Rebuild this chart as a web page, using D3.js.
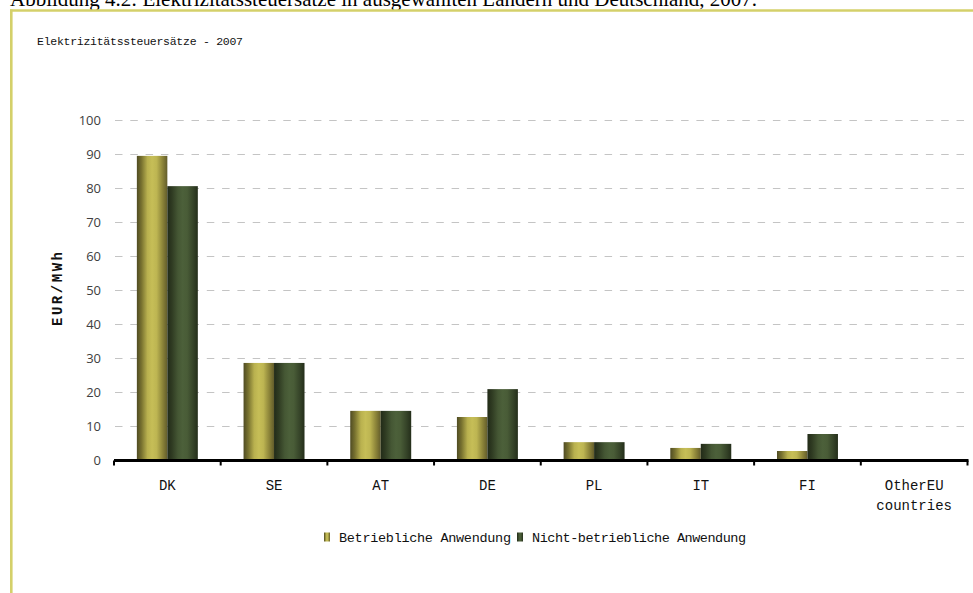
<!DOCTYPE html>
<html><head><meta charset="utf-8">
<script src="https://cdn.jsdelivr.net/npm/d3@7"></script>
<style>body{margin:0;background:#fff}svg{display:block}</style>
</head><body>
<script>
const categories = ["DK","SE","AT","DE","PL","IT","FI","OtherEU|countries"];
const seriesNames = ["Betriebliche Anwendung","Nicht-betriebliche Anwendung"];
const betrieblich = [89.3, 28.4, 14.3, 12.5, 5.1, 3.4, 2.5, 0];
const nichtBetrieblich = [80.4, 28.4, 14.3, 20.7, 5.1, 4.6, 7.5, 0];
const yTicks = [0,10,20,30,40,50,60,70,80,90,100];
const chartTitle = "Elektrizitätssteuersätze - 2007";
const pageCaption = "Abbildung 4.2: Elektrizitätssteuersätze in ausgewählten Ländern und Deutschland, 2007.";
const yLabel = "EUR/MWh";

const W = 973, H = 593;
const svg = d3.select("body").append("svg").attr("width", W).attr("height", H);
const defs = svg.append("defs");
function grad(id, stops){
  const g = defs.append("linearGradient").attr("id", id).attr("x1","0").attr("x2","1").attr("y1","0").attr("y2","0");
  stops.forEach(s => g.append("stop").attr("offset", s[0]).attr("stop-color", s[1]));
}
grad("gY", [[0,"#4f4b23"],[0.15,"#77712f"],[0.35,"#b9b14f"],[0.5,"#c6be57"],[0.65,"#bdb552"],[0.85,"#8a8238"],[1,"#625c2b"]]);
grad("gG", [[0,"#222b18"],[0.15,"#2f3b22"],[0.35,"#455734"],[0.5,"#4c603a"],[0.65,"#495c37"],[0.85,"#354328"],[1,"#242e1a"]]);
const fills = ["url(#gY)","url(#gG)"];

// page caption (cut off at top, as in the source)
svg.append("text").attr("x", 10).attr("y", 6).attr("font-family","Liberation Serif").attr("font-size", 21).attr("fill","#000").text(pageCaption);

// frame
svg.append("line").attr("x1",10).attr("x2",W).attr("y1",10.5).attr("y2",10.5).attr("stroke","#d4d06a").attr("stroke-width",2.5);
svg.append("line").attr("x1",11.3).attr("x2",11.3).attr("y1",9.5).attr("y2",H).attr("stroke","#d4d06a").attr("stroke-width",2.6);

svg.append("text").attr("x",37).attr("y",45).attr("font-family","Liberation Mono").attr("font-size",11.5).attr("fill","#111").attr("textLength",206).text(chartTitle);

const x0 = d3.scaleBand().domain(categories).range([114, 967.5]).padding(0);
const x1 = d3.scaleBand().domain(seriesNames).range([0, x0.bandwidth()]).paddingInner(0).paddingOuter(0.75);
const y = d3.scaleLinear().domain([0,100]).range([459.5,119.5]);

// gridlines
svg.append("g").selectAll("line").data(yTicks.filter(d=>d>0)).join("line")
  .attr("x1",115).attr("x2",968).attr("y1",d=>Math.round(y(d))+0.5).attr("y2",d=>Math.round(y(d))+0.5)
  .attr("stroke","#c4c4c4").attr("stroke-width",1).attr("stroke-dasharray","7.5,7.8");

// y tick labels
const yAxis = d3.axisLeft(y).tickValues(yTicks).tickSize(0).tickPadding(0);
const ya = svg.append("g").attr("transform","translate(101,0)").call(yAxis);
ya.select(".domain").remove();
ya.selectAll("text").attr("font-family","Open Sans").attr("font-size",13).attr("fill","#404040").attr("dy","0.35em");

// bars
const rows = categories.map((c,i)=>({c, v:[betrieblich[i], nichtBetrieblich[i]]}));
const grp = svg.append("g").selectAll("g").data(rows).join("g").attr("transform", d=>`translate(${x0(d.c)},0)`);
grp.selectAll("rect").data(d=>d.v.map((v,j)=>({v, s:seriesNames[j], j}))).join("rect")
  .attr("x", d=>x1(d.s)).attr("width", x1.bandwidth())
  .attr("y", d=>y(d.v)).attr("height", d=>y(0)-y(d.v))
  .attr("fill", d=>fills[d.j]);

// x axis
const xAxis = d3.axisBottom(x0).tickSize(0).tickFormat("");
const xa = svg.append("g").attr("transform",`translate(0,${y(0)})`).call(xAxis);
xa.select(".domain").remove();
svg.append("line").attr("x1",114).attr("x2",968.5).attr("y1",y(0)+1).attr("y2",y(0)+1).attr("stroke","#000").attr("stroke-width",3.2);
const bounds = categories.map(c=>x0(c)).concat([x0(categories[categories.length-1])+x0.bandwidth()]);
svg.append("g").selectAll("line").data(bounds).join("line")
  .attr("x1",d=>d).attr("x2",d=>d).attr("y1",y(0)+1).attr("y2",y(0)+6).attr("stroke","#000").attr("stroke-width",2);

// category labels
const lab = svg.append("g").selectAll("text").data(categories).join("text")
  .attr("x", d=>x0(d)+x0.bandwidth()/2).attr("y", 490)
  .attr("text-anchor","middle").attr("font-family","Liberation Mono").attr("font-size",14).attr("fill","#111");
lab.each(function(d){
  const parts = d.split("|");
  const t = d3.select(this);
  parts.forEach((p,i)=>t.append("tspan").attr("x", x0(d)+x0.bandwidth()/2).attr("dy", i===0?0:20).text(p));
});

// y label
svg.append("text").attr("transform","translate(62,289) rotate(-90)").attr("text-anchor","middle")
  .attr("font-family","Liberation Mono").attr("font-weight","bold").attr("font-size",14).attr("fill","#111")
  .attr("textLength",74).text(yLabel);

// legend
const legend = [{x:324, tx:339}, {x:517, tx:532}];
seriesNames.forEach((s,i)=>{
  svg.append("rect").attr("x",legend[i].x).attr("y",532.5).attr("width",6).attr("height",9).attr("fill",fills[i]);
  svg.append("text").attr("x",legend[i].tx).attr("y",542).attr("font-family","Liberation Mono").attr("font-size",13.5).attr("fill","#111").attr("textLength", i===0?172:214).text(s);
});
</script>
</body></html>
